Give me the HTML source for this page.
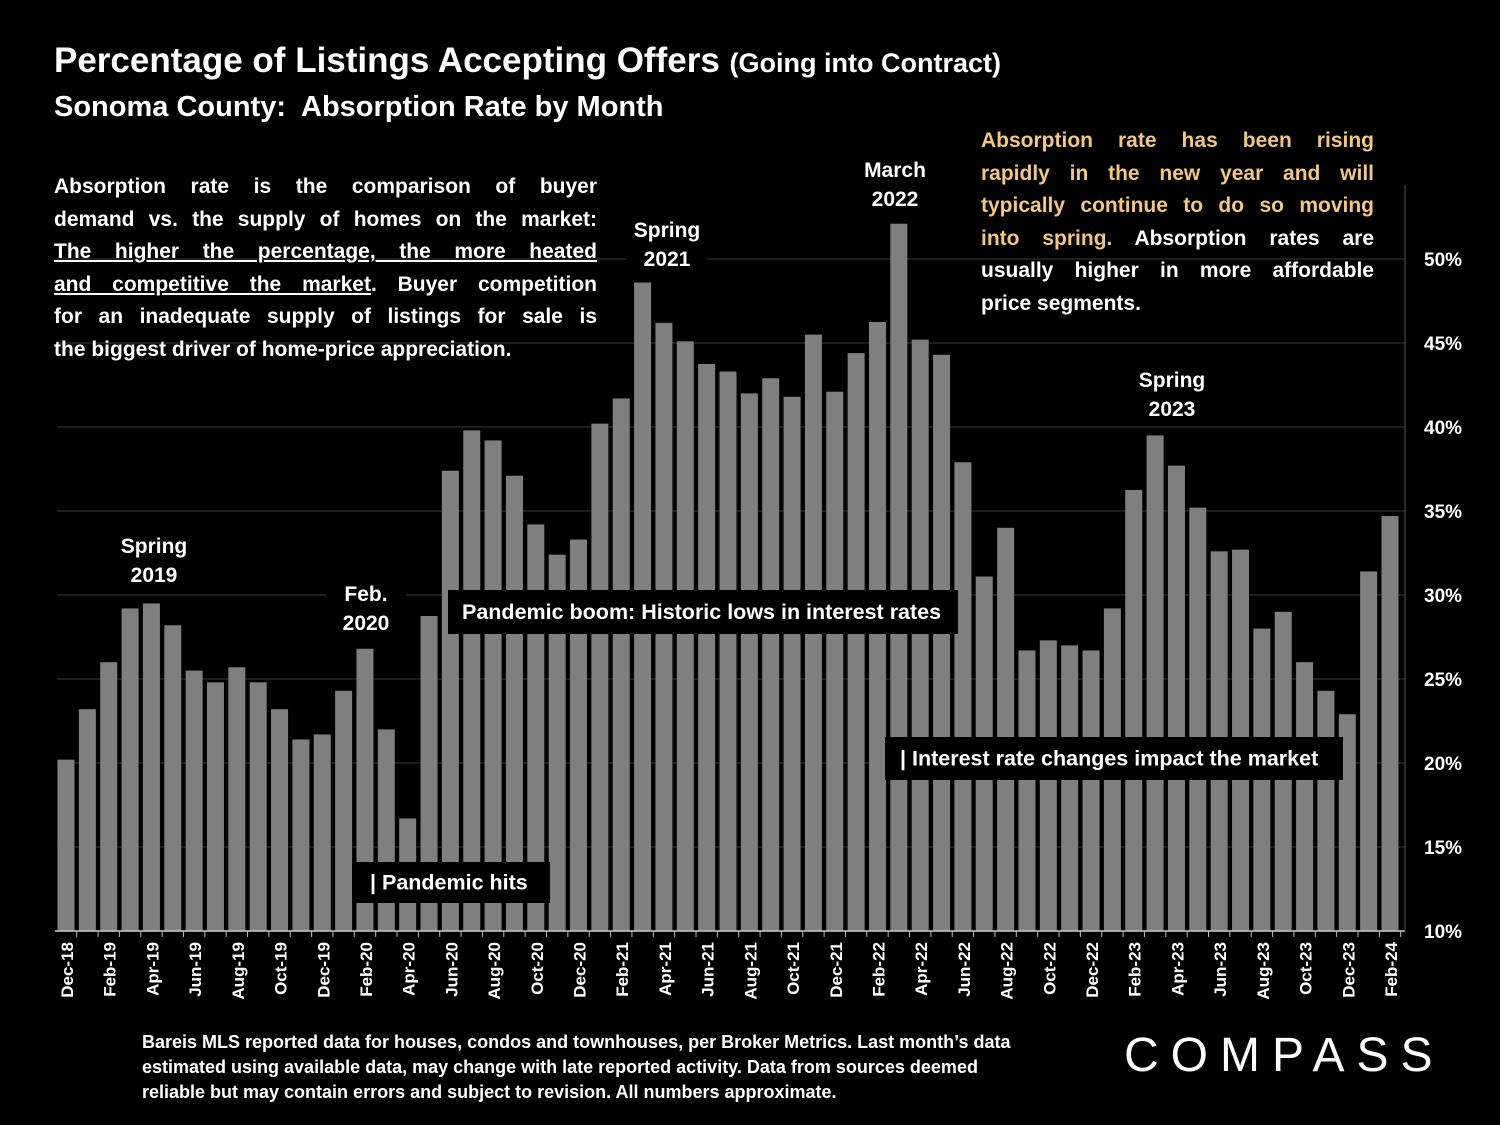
<!DOCTYPE html>
<html><head><meta charset="utf-8"><style>
body{margin:0;background:#000;width:1500px;height:1125px;overflow:hidden;font-family:"Liberation Sans",sans-serif;color:#fff;font-weight:bold}
.t{position:absolute;white-space:nowrap}
p{margin:0}
.para{position:absolute;text-align:justify;text-align-last:justify;font-size:21px;line-height:32.5px}
</style></head><body>
<div class="t" style="left:54px;top:41px;font-size:35px">Percentage of Listings Accepting Offers <span style="font-size:27px">(Going into Contract)</span></div>
<div class="t" style="left:54px;top:91px;font-size:29px">Sonoma County:&nbsp; Absorption Rate by Month</div>
<svg id="chart" width="1500" height="1125" style="position:absolute;left:0;top:0"></svg>
<div class="para" style="left:54px;top:171px;width:543px">
<p>Absorption rate is the comparison of buyer</p><p>demand vs. the supply of homes on the market:</p><p><u>The higher the percentage, the more heated</u></p><p><u>and competitive the market</u>. Buyer competition</p><p>for an inadequate supply of listings for sale is</p><p style="text-align-last:left">the biggest driver of home-price appreciation.</p></div>
<div class="para" style="left:981px;top:125px;width:393px">
<p style="color:#f3c77c">Absorption rate has been rising</p><p style="color:#f3c77c">rapidly in the new year and will</p><p style="color:#f3c77c">typically continue to do so moving</p><p><span style="color:#f3c77c">into spring.</span> Absorption rates are</p><p>usually higher in more affordable</p><p style="text-align-last:left">price segments.</p></div>
<div class="t" style="left:142px;top:1030px;font-size:18px;line-height:25px">Bareis MLS reported data for houses, condos and townhouses, per Broker Metrics. Last month’s data<br>estimated using available data, may change with late reported activity. Data from sources deemed<br>reliable but may contain errors and subject to revision. All numbers approximate.</div>
<div class="t" style="left:1124px;top:1028px;font-size:48px;font-weight:normal;letter-spacing:12px">COMPASS</div>
<script>
const months=["Dec-18","Jan-19","Feb-19","Mar-19","Apr-19","May-19","Jun-19","Jul-19","Aug-19","Sep-19","Oct-19","Nov-19","Dec-19","Jan-20","Feb-20","Mar-20","Apr-20","May-20","Jun-20","Jul-20","Aug-20","Sep-20","Oct-20","Nov-20","Dec-20","Jan-21","Feb-21","Mar-21","Apr-21","May-21","Jun-21","Jul-21","Aug-21","Sep-21","Oct-21","Nov-21","Dec-21","Jan-22","Feb-22","Mar-22","Apr-22","May-22","Jun-22","Jul-22","Aug-22","Sep-22","Oct-22","Nov-22","Dec-22","Jan-23","Feb-23","Mar-23","Apr-23","May-23","Jun-23","Jul-23","Aug-23","Sep-23","Oct-23","Nov-23","Dec-23","Jan-24","Feb-24"];
const rates=[20.2,23.2,26.0,29.2,29.5,28.2,25.5,24.8,25.7,24.8,23.2,21.4,21.7,24.3,26.8,22.0,16.7,28.75,37.4,39.8,39.2,37.1,34.2,32.4,33.3,40.2,41.7,48.6,46.2,45.1,43.75,43.3,42.0,42.9,41.8,45.5,42.1,44.4,46.25,52.1,45.2,44.3,37.9,31.1,34.0,26.7,27.3,27.0,26.7,29.2,36.25,39.5,37.7,35.2,32.6,32.7,28.0,29.0,26.0,24.3,22.9,31.4,34.7];
const yTicks=[10,15,20,25,30,35,40,45,50];
const NS="http://www.w3.org/2000/svg",svg=document.getElementById('chart');
const x=i=>66+i*(1324/(months.length-1));
const y=v=>931-(v-10)*16.8;
function mk(tag,a,p){const e=document.createElementNS(NS,tag);for(const k in a)e.setAttribute(k,a[k]);(p||svg).appendChild(e);return e;}
yTicks.forEach(t=>{
 if(t>10){const g=mk('line',{x1:57,x2:1405,y1:y(t),y2:y(t),stroke:'#3a3a3a','stroke-width':1});
 
 }
 const l=mk('text',{x:1424,y:y(t)+7,fill:'#fff','font-size':19,'font-weight':'bold'});l.textContent=t+'%';
 
 
});
rates.forEach((v,i)=>{
 const b=mk('rect',{x:x(i)-8.5,y:y(v),width:17,height:931-y(v),fill:'#7f7f7f'});
 
 
 mk('line',{x1:x(i)+10.7,x2:x(i)+10.7,y1:931,y2:937,stroke:'#bbb'});
 if(i%2===0){const t=mk('text',{transform:`translate(${x(i)+7},${942}) rotate(-90)`,fill:'#fff','font-size':17,'font-weight':'bold','text-anchor':'end'});t.textContent=months[i];
 
 }
});
const ax=mk('line',{x1:55,x2:1405,y1:931,y2:931,stroke:'#ccc','stroke-width':1.5});


const ay=mk('line',{x1:1405,x2:1405,y1:185,y2:931,stroke:'#555','stroke-width':1});


const notes=[
 ["spring-2019-label",154,["Spring","2019"],528,110,62],
 ["feb-2020-label",366,["Feb.","2020"],576,80,62],
 ["spring-2021-label",667,["Spring","2021"],212,80,62],
 ["march-2022-label",895,["March","2022"],152,80,62],
 ["spring-2023-label",1172,["Spring","2023"],362,110,62]];
notes.forEach(n=>{
 const r=mk('rect',{x:n[1]-n[4]/2,y:n[3],width:n[4],height:n[5],fill:'#000'});
 
 
 n[2].forEach((s,k)=>{const t=mk('text',{x:n[1],y:n[3]+25+k*29,fill:'#fff','font-size':21,'font-weight':'bold','text-anchor':'middle'});t.textContent=s;
 
 });
});
const boxes=[
 ["pandemic-boom-label",448,590,510,44,"Pandemic boom: Historic lows in interest rates",462],
 ["pandemic-hits-label",352,862,198,41,"| Pandemic hits",370],
 ["interest-rate-label",885,737,458,43,"| Interest rate changes impact the market",900]];
boxes.forEach(b=>{
 const r=mk('rect',{x:b[1],y:b[2],width:b[3],height:b[4],fill:'#000'});
 
 
 const t=mk('text',{x:b[6],y:b[2]+b[4]/2+7,fill:'#fff','font-size':21.5,'font-weight':'bold'});t.textContent=b[5];
 
 
});
</script>
</body></html>
